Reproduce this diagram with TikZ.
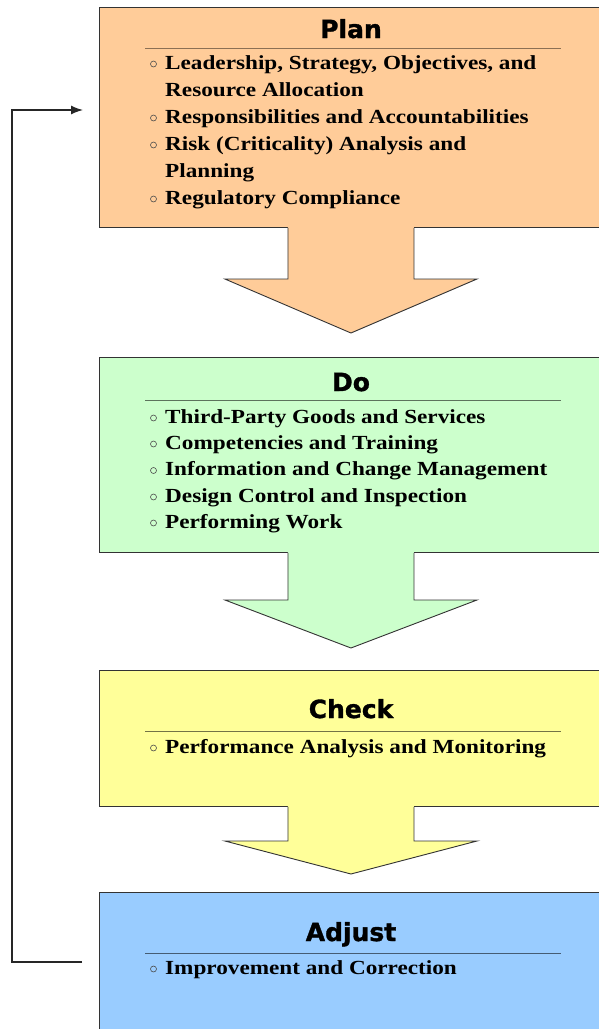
\documentclass[tikz,border=0pt]{standalone}
\usepackage{fontspec}
\setmainfont{Liberation Serif}[FakeStretch=1.16]
\newfontfamily\titlefont{DejaVu Sans}[FakeBold=1.3]
\usetikzlibrary{calc,arrows.meta}
\definecolor{planc}{HTML}{FFCC99}
\definecolor{doc}{HTML}{CCFFCC}
\definecolor{checkc}{HTML}{FFFF99}
\definecolor{adjc}{HTML}{99CCFF}
\definecolor{edge}{HTML}{333333}
\tikzset{
  stagebox/.style={draw=edge, line width=0.9pt, rectangle, inner sep=0pt, minimum width=503pt, anchor=north west},
  ttl/.style={font=\titlefont\bfseries\fontsize{25}{25}\selectfont, anchor=base, inner sep=0pt},
  itm/.style={font=\bfseries\fontsize{20}{24}\selectfont, anchor=base west, inner sep=0pt},
  bul/.style={circle, draw=black!70, line width=0.6pt, minimum size=6pt, inner sep=0pt},
  sep/.style={line width=0.9pt},
  blockarrow/.style={draw=edge, line width=0.9pt},
  feedback/.style={draw=black!85, line width=1.3pt}
}
\begin{document}
\begin{tikzpicture}[x=1pt,y=-1pt]
\useasboundingbox (0,0) rectangle (598,1029);
\fill[white] (0,0) rectangle (598,1029);

% boxes
\node[stagebox, fill=planc, minimum height=220pt] (plan) at (99,7) {};
\node[stagebox, fill=doc, minimum height=195pt] (do) at (99,357) {};
\node[stagebox, fill=checkc, minimum height=136pt] (check) at (99,670) {};
\node[stagebox, fill=adjc, minimum height=150pt] (adjust) at (99,892) {};

% block arrows
\foreach \b/\c/\s/\t in {plan/planc/279/333, do/doc/600/648, check/checkc/841/874}{
  \path (\b.south) ++(-63,0) coordinate (\b-sl)
        (\b.south) ++(63,0) coordinate (\b-sr);
  \fill[\c] ($(\b-sl)+(0,-1.5)$) -- (\b-sl |- 0,\s) -- ($(\b-sl |- 0,\s)+(-63,0)$)
     -- (\b.south |- 0,\t) -- ($(\b-sr |- 0,\s)+(63,0)$) -- (\b-sr |- 0,\s) -- ($(\b-sr)+(0,-1.5)$) -- cycle;
  \draw[blockarrow] (\b-sl) -- (\b-sl |- 0,\s) -- ($(\b-sl |- 0,\s)+(-63,0)$)
     -- (\b.south |- 0,\t) -- ($(\b-sr |- 0,\s)+(63,0)$) -- (\b-sr |- 0,\s) -- (\b-sr);
}

% separators
\draw[sep, draw=planc!55!black] (145,48) -- (561,48);
\draw[sep, draw=doc!45!black] (145,400) -- (561,400);
\draw[sep, draw=checkc!45!black] (145,731) -- (561,731);
\draw[sep, draw=adjc!45!black] (145,953) -- (561,953);

% titles
\node[ttl] (tplan) at (351,38) {Plan};
\node[ttl] (tdo) at (351,391) {Do};
\node[ttl] (tcheck) at (351,718) {Check};
\node[ttl] (tadj) at (351,941) {Adjust};

% Plan items
\node[bul] (pb1) at (153.5,64) {};
\node[itm] (p1) at (165,69) {Leadership, Strategy, Objectives, and};
\node[itm] (p1b) at (165,96) {Resource Allocation};
\node[bul] (pb2) at (153.5,118) {};
\node[itm] (p2) at (165,123) {Responsibilities and Accountabilities};
\node[bul] (pb3) at (153.5,145) {};
\node[itm] (p3) at (165,150) {Risk (Criticality) Analysis and};
\node[itm] (p3b) at (165,177) {Planning};
\node[bul] (pb4) at (153.5,199) {};
\node[itm] (p4) at (165,204) {Regulatory Compliance};

% Do items
\node[bul] (db1) at (153.5,418) {};
\node[itm] (d1) at (165,423) {Third-Party Goods and Services};
\node[bul] (db2) at (153.5,444) {};
\node[itm] (d2) at (165,449) {Competencies and Training};
\node[bul] (db3) at (153.5,470.5) {};
\node[itm] (d3) at (165,475.5) {Information and Change Management};
\node[bul] (db4) at (153.5,497) {};
\node[itm] (d4) at (165,502) {Design Control and Inspection};
\node[bul] (db5) at (153.5,523) {};
\node[itm] (d5) at (165,528) {Performing Work};

% Check items
\node[bul] (cb1) at (153.5,748) {};
\node[itm] (c1) at (165,753) {Performance Analysis and Monitoring};

% Adjust items
\node[bul] (ab1) at (153.5,969) {};
\node[itm] (a1) at (165,974) {Improvement and Correction};

% feedback loop
\coordinate (fbstart) at (82,962);
\coordinate (fbend) at (83,110);
\draw[feedback, -{Latex[length=12pt,width=9pt]}] (fbstart) -| (12,536) |- (fbend);
\end{tikzpicture}
\end{document}
